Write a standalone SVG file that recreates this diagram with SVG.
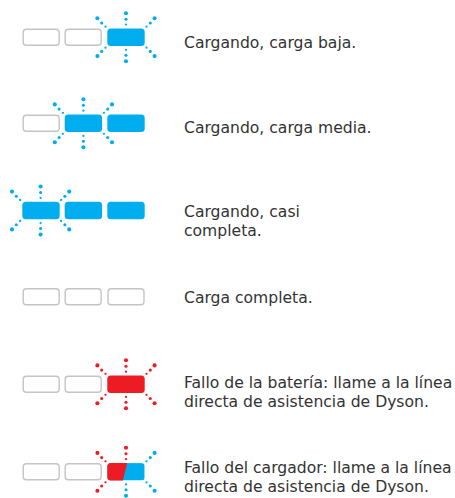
<svg xmlns="http://www.w3.org/2000/svg" width="455" height="498" viewBox="0 0 455 498">
<style>
.off{fill:#fff;stroke:#c4c4c4;stroke-width:1.4}
.blue{fill:#00aeef}
.red{fill:#ed1c24}
.t{font-family:"DejaVu Sans",sans-serif;font-size:15.6px;fill:#333}
</style>
<defs>
<g id="rUp"><circle cx="0" cy="-12.6" r="1.15"/><circle cx="0" cy="-18" r="1.55"/><circle cx="0" cy="-24" r="2.05"/></g>
<g id="rDn"><circle cx="0" cy="12.6" r="1.15"/><circle cx="0" cy="18" r="1.55"/><circle cx="0" cy="24" r="2.05"/></g>
<g id="rUL"><circle cx="-20.5" cy="-10.5" r="1.15"/><circle cx="-24.3" cy="-14.2" r="1.55"/><circle cx="-28.6" cy="-18.9" r="2.05"/></g>
<g id="rUR"><circle cx="20.5" cy="-10.5" r="1.15"/><circle cx="24.3" cy="-14.2" r="1.55"/><circle cx="28.6" cy="-18.9" r="2.05"/></g>
<g id="rDL"><circle cx="-20.5" cy="10.5" r="1.15"/><circle cx="-24.3" cy="14.2" r="1.55"/><circle cx="-28.6" cy="18.9" r="2.05"/></g>
<g id="rDR"><circle cx="20.5" cy="10.5" r="1.15"/><circle cx="24.3" cy="14.2" r="1.55"/><circle cx="28.6" cy="18.9" r="2.05"/></g>
<g id="rays"><use href="#rUp"/><use href="#rDn"/><use href="#rUL"/><use href="#rUR"/><use href="#rDL"/><use href="#rDR"/></g>
<rect id="segOff" x="-18" y="-8" width="36" height="16" rx="3.2"/>
<rect id="segOn" x="-18.7" y="-8.7" width="37.4" height="17.4" rx="3.5"/>
<clipPath id="clip6"><rect x="107.3" y="463.1" width="37.4" height="17.4" rx="3.5"/></clipPath>
</defs>

<g id="row1" transform="translate(0,37.2)">
<use href="#segOff" class="off" x="41.2"/>
<use href="#segOff" class="off" x="83.2"/>
<use href="#segOn" class="blue" x="126"/>
<use href="#rays" class="blue" x="126"/>
<text class="t" x="184" y="11.1">Cargando, carga baja.</text>
</g>

<g id="row2" transform="translate(0,123.3)">
<use href="#segOff" class="off" x="41.2"/>
<use href="#segOn" class="blue" x="83.4"/>
<use href="#segOn" class="blue" x="126"/>
<use href="#rays" class="blue" x="83.4"/>
<text class="t" x="184" y="10">Cargando, carga media.</text>
</g>

<g id="row3" transform="translate(0,210.5)">
<use href="#segOn" class="blue" x="41"/>
<use href="#segOn" class="blue" x="83.4"/>
<use href="#segOn" class="blue" x="126"/>
<use href="#rays" class="blue" x="40.6"/>
<text class="t" x="184" y="6.8">Cargando, casi</text>
<text class="t" x="184" y="25.5">completa.</text>
</g>

<g id="row4" transform="translate(0,296.8)">
<use href="#segOff" class="off" x="41.2"/>
<use href="#segOff" class="off" x="83.2"/>
<use href="#segOff" class="off" x="126"/>
<text class="t" x="184" y="6.5">Carga completa.</text>
</g>

<g id="row5" transform="translate(0,384.3)">
<use href="#segOff" class="off" x="41.2"/>
<use href="#segOff" class="off" x="83.2"/>
<use href="#segOn" class="red" x="126"/>
<use href="#rays" class="red" x="126"/>
<text class="t" x="184" y="4">Fallo de la batería: llame a la línea</text>
<text class="t" x="184" y="22.4">directa de asistencia de Dyson.</text>
</g>

<g id="row6">
<g transform="translate(0,471.8)">
<use href="#segOff" class="off" x="41.2"/>
<use href="#segOff" class="off" x="83.2"/>
</g>
<g clip-path="url(#clip6)">
<rect x="107.3" y="463.1" width="37.4" height="17.4" class="blue"/>
<polygon points="100,460 128,460 122,484 100,484" class="red"/>
</g>
<g transform="translate(126,471.8)">
<use href="#rUp" class="red"/>
<use href="#rUL" class="red"/>
<use href="#rDL" class="red"/>
<use href="#rDn" class="blue"/>
<use href="#rUR" class="blue"/>
<use href="#rDR" class="blue"/>
</g>
<text class="t" x="184" y="473.3">Fallo del cargador: llame a la línea</text>
<text class="t" x="184" y="491.7">directa de asistencia de Dyson.</text>
</g>
</svg>
